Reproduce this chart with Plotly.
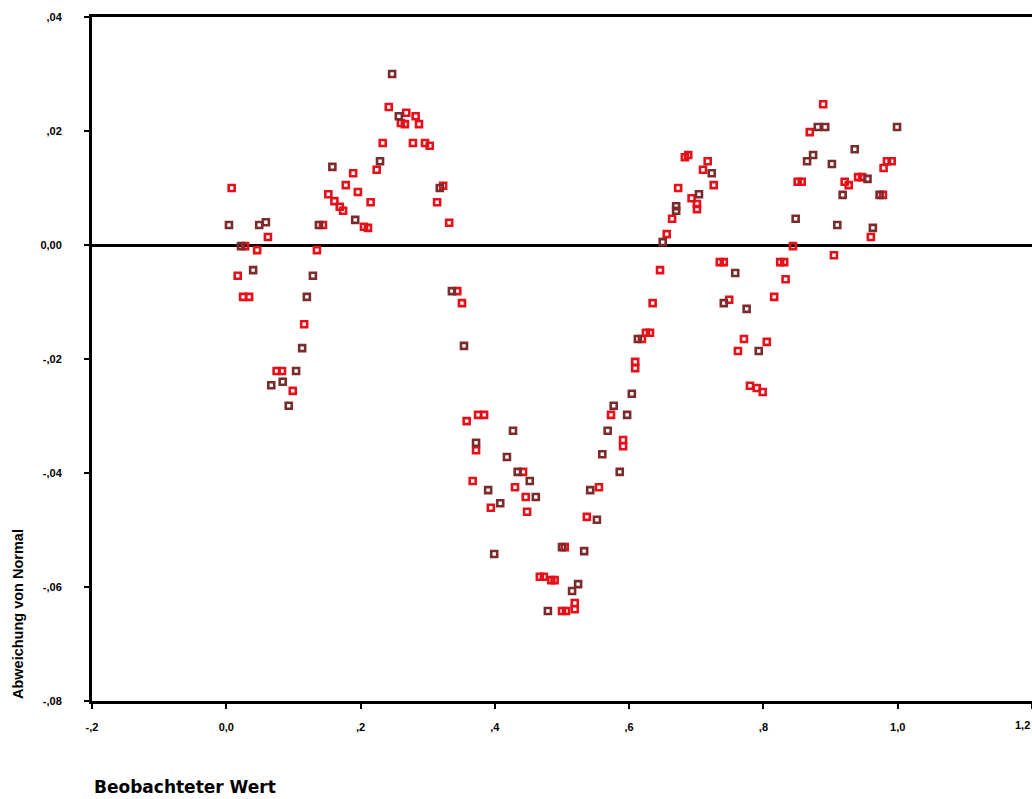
import plotly.graph_objects as go

# Detrended normal Q-Q plot: observed value vs deviation from normal
obs_a = [0.008, 0.028, 0.017, 0.025, 0.034, 0.046, 0.062, 0.075, 0.083, 0.099, 0.116, 0.135, 0.144,
         0.152, 0.161, 0.169, 0.174, 0.178, 0.189, 0.196, 0.205, 0.211, 0.215, 0.224, 0.233, 0.242,
         0.260, 0.266, 0.268, 0.278, 0.282, 0.287, 0.296, 0.303, 0.323, 0.314, 0.332,
         0.344, 0.351, 0.358, 0.375, 0.384, 0.372, 0.367, 0.394, 0.430, 0.442, 0.446, 0.448, 0.467,
         0.473, 0.484, 0.489, 0.500, 0.506, 0.504, 0.519, 0.519, 0.537, 0.555, 0.573, 0.591, 0.591,
         0.609, 0.609, 0.619, 0.625, 0.631, 0.635, 0.646, 0.656, 0.664, 0.673, 0.683, 0.688, 0.693,
         0.701, 0.701, 0.710, 0.717, 0.726,
         0.735, 0.741, 0.749, 0.762, 0.771, 0.780, 0.790, 0.799, 0.805, 0.816, 0.825, 0.831, 0.833,
         0.844, 0.851, 0.857, 0.869, 0.889, 0.905, 0.921, 0.927, 0.941, 0.947, 0.960, 0.978, 0.979,
         0.984, 0.991]
dev_a = [0.0100, -0.0002, -0.0054, -0.0091, -0.0091, -0.0009, 0.0014, -0.0221, -0.0221, -0.0256, -0.0139, -0.0009, 0.0035,
         0.0089, 0.0077, 0.0067, 0.0060, 0.0105, 0.0126, 0.0093, 0.0032, 0.0030, 0.0075, 0.0132, 0.0179, 0.0242,
         0.0214, 0.0212, 0.0232, 0.0179, 0.0226, 0.0212, 0.0179, 0.0174, 0.0104, 0.0075, 0.0039,
         -0.0081, -0.0102, -0.0309, -0.0298, -0.0298, -0.0360, -0.0414, -0.0461, -0.0425, -0.0398, -0.0442, -0.0468, -0.0582,
         -0.0582, -0.0588, -0.0588, -0.0642, -0.0642, -0.0530, -0.0628, -0.0639, -0.0477, -0.0425, -0.0298, -0.0342, -0.0353,
         -0.0205, -0.0216, -0.0165, -0.0154, -0.0154, -0.0102, -0.0044, 0.0019, 0.0046, 0.0100, 0.0154, 0.0158, 0.0082,
         0.0072, 0.0063, 0.0132, 0.0147, 0.0105,
         -0.0030, -0.0030, -0.0096, -0.0186, -0.0165, -0.0247, -0.0251, -0.0258, -0.0170, -0.0091, -0.0030, -0.0030, -0.0060,
         -0.0002, 0.0111, 0.0111, 0.0198, 0.0247, -0.0018, 0.0111, 0.0105, 0.0119, 0.0119, 0.0014, 0.0088, 0.0135,
         0.0147, 0.0147]

obs_b = [0.004, 0.022, 0.040, 0.049, 0.059, 0.067, 0.084, 0.093, 0.104, 0.113, 0.120, 0.129, 0.138,
         0.158, 0.192, 0.229, 0.247, 0.257, 0.318,
         0.336, 0.354, 0.372, 0.390, 0.399, 0.408, 0.418, 0.427, 0.434, 0.452, 0.461, 0.479, 0.500,
         0.515, 0.524, 0.533, 0.552, 0.542, 0.560, 0.568, 0.577, 0.586, 0.597, 0.604, 0.613, 0.650,
         0.670, 0.670, 0.704, 0.723,
         0.741, 0.758, 0.775, 0.793, 0.848, 0.865, 0.874, 0.881, 0.892, 0.902, 0.910, 0.918, 0.936,
         0.955, 0.963, 0.973, 0.999]
dev_b = [0.0035, -0.0002, -0.0044, 0.0035, 0.0040, -0.0246, -0.0240, -0.0282, -0.0221, -0.0181, -0.0091, -0.0054, 0.0035,
         0.0137, 0.0044, 0.0147, 0.0300, 0.0226, 0.0100,
         -0.0081, -0.0177, -0.0347, -0.0430, -0.0542, -0.0453, -0.0372, -0.0326, -0.0398, -0.0414, -0.0442, -0.0642, -0.0530,
         -0.0607, -0.0595, -0.0537, -0.0482, -0.0430, -0.0367, -0.0326, -0.0282, -0.0398, -0.0298, -0.0261, -0.0165, 0.0005,
         0.0068, 0.0060, 0.0089, 0.0126,
         -0.0102, -0.0049, -0.0112, -0.0186, 0.0046, 0.0147, 0.0158, 0.0207, 0.0207, 0.0142, 0.0035, 0.0088, 0.0168,
         0.0116, 0.0030, 0.0088, 0.0207]

x_ticks = [-0.2, 0.0, 0.2, 0.4, 0.6, 0.8, 1.0, 1.2]
x_tick_labels = ["-,2", "0,0", ",2", ",4", ",6", ",8", "1,0", "1,2"]
y_ticks = [0.04, 0.02, 0.0, -0.02, -0.04, -0.06, -0.08]
y_tick_labels = [",04", ",02", "0,00", "-,02", "-,04", "-,06", "-,08"]

fig = go.Figure()
fig.add_trace(go.Scatter(x=obs_a, y=dev_a, mode="markers",
                         marker=dict(symbol="square-open", size=6, color="#e5101a",
                                     line=dict(width=2.6, color="#e5101a"))))
fig.add_trace(go.Scatter(x=obs_b, y=dev_b, mode="markers",
                         marker=dict(symbol="square-open", size=6, color="#7a2c2c",
                                     line=dict(width=2.6, color="#7a2c2c"))))

tickfont = dict(family="Liberation Sans", size=11, color="black", weight=700)
fig.update_layout(
    width=1032, height=799,
    margin=dict(l=92, r=0, t=17, b=98),
    plot_bgcolor="white", paper_bgcolor="white",
    showlegend=False,
    font=dict(family="Liberation Sans", color="black"),
    xaxis=dict(range=[-0.2, 1.2], tickvals=x_ticks, ticktext=x_tick_labels,
               showline=True, linecolor="black", linewidth=3, mirror=True,
               ticks="outside", ticklen=5, tickwidth=2, tickcolor="black",
               ticklabelstandoff=9,
               showgrid=False, zeroline=False, tickfont=tickfont),
    yaxis=dict(range=[-0.08, 0.04], tickvals=y_ticks, ticktext=y_tick_labels,
               showline=True, linecolor="black", linewidth=3,
               ticks="outside", ticklen=5, tickwidth=2, tickcolor="black",
               ticklabelstandoff=20,
               showgrid=False, zeroline=True, zerolinecolor="black", zerolinewidth=2.5,
               tickfont=tickfont),
    annotations=[
        dict(text=x_tick_labels[-1], xref="x", yref="paper", x=x_ticks[-1], y=-0.035,
             xanchor="right", yanchor="middle", showarrow=False, font=tickfont),
        dict(text="Beobachteter Wert", xref="paper", yref="paper", x=0, y=-0.1257,
             xanchor="left", yanchor="middle", showarrow=False,
             font=dict(family="DejaVu Sans", size=17, color="black", weight=700)),
        dict(text="Abweichung von Normal", xref="paper", yref="paper", x=-0.0787, y=0,
             xanchor="center", yanchor="bottom", textangle=-90, showarrow=False,
             font=dict(family="Liberation Sans", size=14.5, color="black", weight=700)),
    ],
)

fig.write_html("out.html")
